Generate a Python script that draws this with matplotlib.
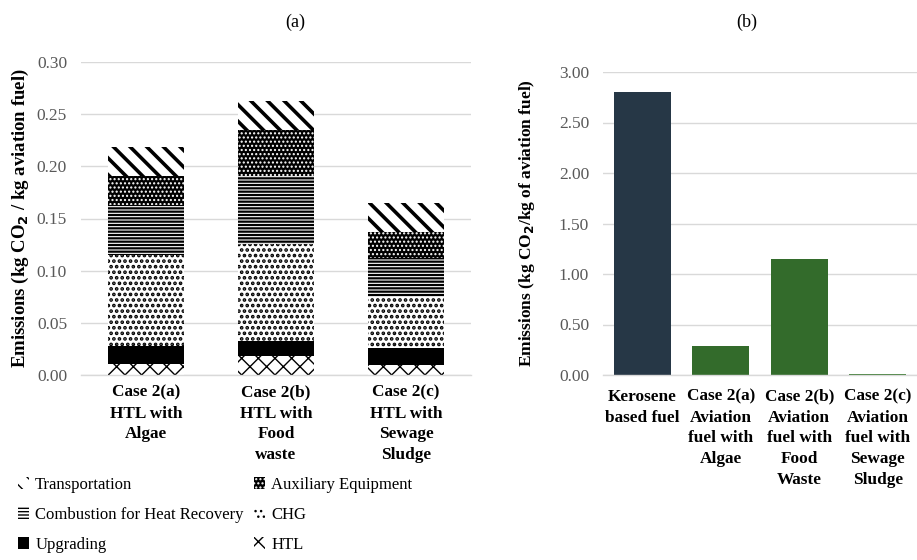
import matplotlib
matplotlib.use("Agg")
import matplotlib.pyplot as plt
import numpy as np

plt.rcParams['font.family'] = ['Liberation Serif', 'DejaVu Serif']

# ---------------- data ----------------
cases_a = ["Case 2(a)\nHTL with\nAlgae", "Case 2(b)\nHTL with\nFood\nwaste",
           "Case 2(c)\nHTL with\nSewage\nSludge"]
htl = [0.011, 0.018, 0.0096]
upgrading = [0.017, 0.015, 0.016]
chg = [0.087, 0.093, 0.049]
combustion = [0.048, 0.065, 0.038]
auxiliary = [0.028, 0.044, 0.0245]
transportation = [0.028, 0.0275, 0.028]

series_names = ["HTL", "Upgrading", "CHG", "Combustion for Heat Recovery",
                "Auxiliary Equipment", "Transportation"]

cases_b = ["Kerosene\nbased fuel", "Case 2(a)\nAviation\nfuel with\nAlgae",
           "Case 2(b)\nAviation\nfuel with\nFood\nWaste",
           "Case 2(c)\nAviation\nfuel with\nSewage\nSludge"]
emissions_b = [2.80, 0.29, 1.15, 0.01]

# ---------------- styles ----------------
styles = {
    "HTL": dict(facecolor="white", edgecolor="black", hatch="xx", hlw=1.0),
    "Upgrading": dict(facecolor="black", edgecolor="black", hatch=None, hlw=1.0),
    "CHG": dict(facecolor="white", edgecolor="black", hatch="...", hlw=1.8),
    "Combustion for Heat Recovery": dict(facecolor="white", edgecolor="black", hatch="-----", hlw=1.6),
    "Auxiliary Equipment": dict(facecolor="black", edgecolor="white", hatch="....", hlw=1.0),
    "Transportation": dict(facecolor="white", edgecolor="black", hatch="\\\\", hlw=2.6),
}

W, H = 917, 560
fig = plt.figure(figsize=(W / 100, H / 100), dpi=100)

grid_c = "#d9d9d9"
tick_c = "#595959"

def style_axes(ax):
    for s in ["top", "right", "left"]:
        ax.spines[s].set_visible(False)
    ax.spines["bottom"].set_color(grid_c)
    ax.spines["bottom"].set_linewidth(1.0)
    ax.yaxis.grid(True, color=grid_c, linewidth=1.0)
    ax.set_axisbelow(True)
    ax.tick_params(axis="both", length=0)
    ax.tick_params(axis="y", colors=tick_c, labelsize=12.5, pad=10)
    ax.tick_params(axis="x", pad=7)

# ---------------- panel (a) ----------------
ax1 = fig.add_axes([81 / W, 1 - 375 / H, 390 / W, 313 / H])
x = np.arange(len(cases_a))
bottom = np.zeros(len(cases_a))
containers = {}
data_a = {"HTL": htl, "Upgrading": upgrading, "CHG": chg,
          "Combustion for Heat Recovery": combustion,
          "Auxiliary Equipment": auxiliary, "Transportation": transportation}
for name in series_names:
    st = styles[name]
    vals = np.array(data_a[name])
    with plt.rc_context({"hatch.linewidth": st["hlw"]}):
        bc = ax1.bar(x, vals, 0.59, bottom=bottom, facecolor=st["facecolor"],
                     edgecolor=st["edgecolor"], hatch=st["hatch"], linewidth=0,
                     label=name)
    for p in bc:
        try:
            p.set_hatch_linewidth(st["hlw"])
        except Exception:
            pass
    containers[name] = bc
    bottom += vals

ax1.set_xlim(-0.5, len(cases_a) - 0.5)
ax1.set_ylim(0, 0.30)
ax1.set_yticks(np.arange(0, 0.301, 0.05))
ax1.set_yticklabels([f"{v:.2f}" for v in np.arange(0, 0.301, 0.05)])
ax1.set_xticks(x)
ax1.set_xticklabels(cases_a, fontweight="bold", fontsize=12.4, linespacing=1.4,
                    va="top")
style_axes(ax1)
ax1.set_ylabel("Emissions (kg CO$_\\mathbf{2}$ / kg aviation fuel)", fontweight="bold",
               fontsize=13.5)
fig.text(295 / W, 1 - 22 / H, "(a)", ha="center", va="center", fontsize=13)

# ---------------- panel (b) ----------------
ax2 = fig.add_axes([603 / W, 1 - 375 / H, 314 / W, 303 / H])
xb = np.arange(len(cases_b))
colors_b = ["#263746", "#336b2b", "#336b2b", "#3f7d35"]
ax2.bar(xb, emissions_b, 0.73, color=colors_b, linewidth=0)
ax2.set_xlim(-0.5, len(cases_b) - 0.5)
ax2.set_ylim(0, 3.0)
ax2.set_yticks(np.arange(0, 3.01, 0.5))
ax2.set_yticklabels([f"{v:.2f}" for v in np.arange(0, 3.01, 0.5)])
ax2.set_xticks(xb)
ax2.set_xticklabels(cases_b, fontweight="bold", fontsize=12.4, linespacing=1.4,
                    va="top")
ax2.tick_params(axis="x", pad=10)
style_axes(ax2)
ax2.tick_params(axis="x", pad=10)
ax2.set_ylabel("Emissions (kg CO$_\\mathbf{2}$/kg of aviation fuel)", fontweight="bold",
               fontsize=12.5)
fig.text(747 / W, 1 - 22 / H, "(b)", ha="center", va="center", fontsize=13)

# place y labels at fixed figure x
for ax, xpix in [(ax1, 20), (ax2, 527)]:
    bb = ax.get_position()
    xa = (xpix / W - bb.x0) / bb.width
    ax.yaxis.set_label_coords(xa, 0.5)
    ax.yaxis.label.set_va("center")

# ---------------- legend ----------------
order = ["Transportation", "Combustion for Heat Recovery", "Upgrading",
         "Auxiliary Equipment", "CHG", "HTL"]
handles = [containers[n][0] for n in order]
fig.legend(handles, order, ncol=2, loc="upper left",
           bbox_to_anchor=(11 / W, 1 - 470 / H), frameon=False, fontsize=12,
           handlelength=0.7, handleheight=0.7, handletextpad=0.35,
           labelspacing=0.85, columnspacing=0.6, borderaxespad=0)

fig.savefig("out.png", dpi=100)
